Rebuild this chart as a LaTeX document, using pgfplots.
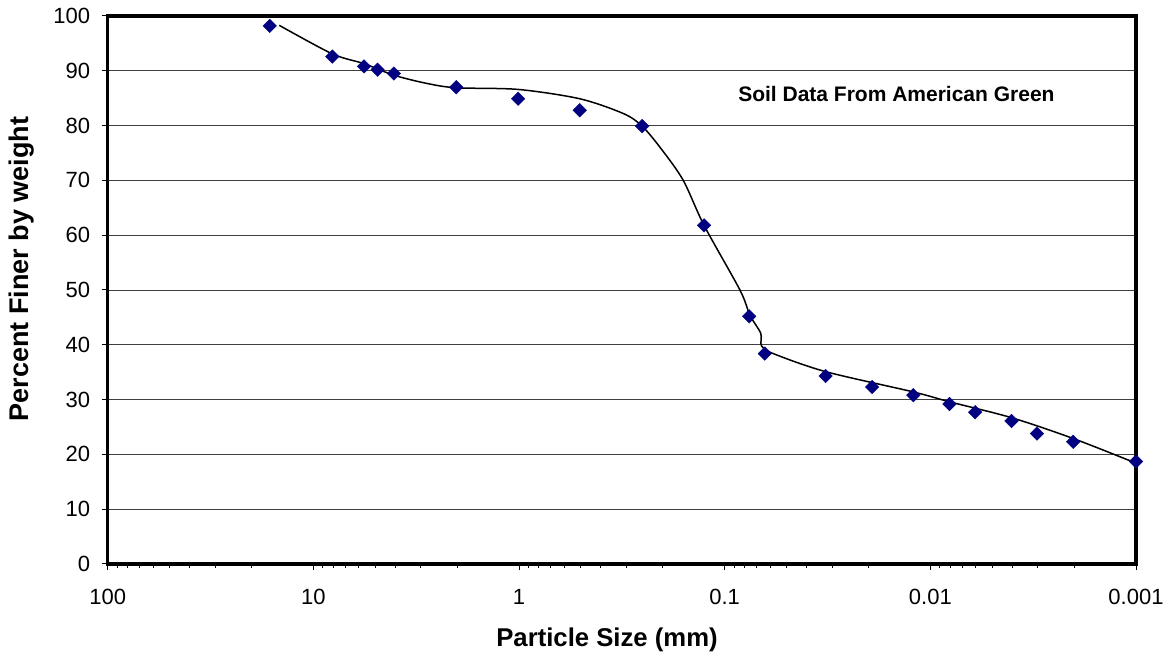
\documentclass[border=0pt]{standalone}
\usepackage{pgfplots}
\pgfplotsset{compat=1.18}
\usepackage{fontspec}
\setmainfont{Liberation Sans}
\definecolor{navy}{RGB}{0,0,128}
\begin{document}
\begin{tikzpicture}
\begin{axis}[
  scale only axis, width=1028.3pt, height=548pt,
  xmode=log, log basis x=10, x dir=reverse,
  xmin=0.001, xmax=100, ymin=0, ymax=100,
  xtick={100,10,1,0.1,0.01,0.001},
  xticklabels={100,10,1,0.1,0.01,0.001},
  minor xtick={20,30,40,50,60,70,80,90,2,3,4,5,6,7,8,9,0.2,0.3,0.4,0.5,0.6,0.7,0.8,0.9,0.02,0.03,0.04,0.05,0.06,0.07,0.08,0.09,0.002,0.003,0.004,0.005,0.006,0.007,0.008,0.009},
  ytick={0,10,...,100},
  /pgf/number format/assume math mode=true,
  tick align=outside, xtick pos=bottom, ytick pos=left,
  major tick length=6pt, minor tick length=4pt,
  every tick/.style={black, line width=1pt},
  axis line style={line width=3.5pt},
  ymajorgrids, major grid style={black!75, line width=0.9pt},
  ticklabel style={font=\fontsize{22}{22}\selectfont},
  xticklabel style={yshift=-16pt},
  yticklabel style={xshift=-8pt},
  xlabel={Particle Size (mm)},
  ylabel={Percent Finer by weight},
  every axis x label/.style={at={(rel axis cs:0.4856,-0.1387)}, anchor=center, font=\bfseries\fontsize{25.7}{25.7}\selectfont},
  every axis y label/.style={at={(rel axis cs:-0.0833,0.538)}, rotate=90, anchor=center, font=\bfseries\fontsize{27}{27}\selectfont},
  clip=false,
]
\addplot[only marks, mark=square*, mark size=4.8pt, mark options={rotate=45, fill=navy, draw=navy}] coordinates {
(16.3,98.2) (8.09,92.6) (5.67,90.8) (4.87,90.2) (4.06,89.5)
(2.02,87.0) (1.01,84.9) (0.507,82.8) (0.252,79.9) (0.126,61.8)
(0.076,45.2) (0.0638,38.4) (0.0323,34.3) (0.0192,32.3) (0.0121,30.8)
(0.00807,29.2) (0.00605,27.7) (0.00403,26.1) (0.00303,23.8) (0.00202,22.3)
(0.001,18.7)
};
\addplot[black, line width=1.5pt, smooth, tension=0.5, mark=none] coordinates {
(14.65,98.3) (8.1,93.1) (5.67,91.3) (4.06,89.2) (2.81,87.7) (2.02,86.9)
(1.01,86.6) (0.507,84.9) (0.311,82.2) (0.252,79.9) (0.203,75.7)
(0.159,70.0) (0.126,61.8) (0.0843,50.0) (0.0754,45.4) (0.0668,42.1)
(0.0662,39.8) (0.0581,38.4) (0.0323,35.1) (0.0121,31.4) (0.00807,29.6)
(0.00403,26.7) (0.00202,22.9) (0.001,18.4)
};
\node[font=\bfseries\fontsize{21}{21}\selectfont] at (rel axis cs:0.767,0.858) {Soil Data From American Green};
\coordinate (A) at (rel axis cs:0,0);
\coordinate (B) at (rel axis cs:1,1);
\end{axis}
\pgfresetboundingbox
\path ([xshift=-107.7pt,yshift=-91pt]A) rectangle ([xshift=35pt,yshift=16pt]B);
\end{tikzpicture}
\end{document}
